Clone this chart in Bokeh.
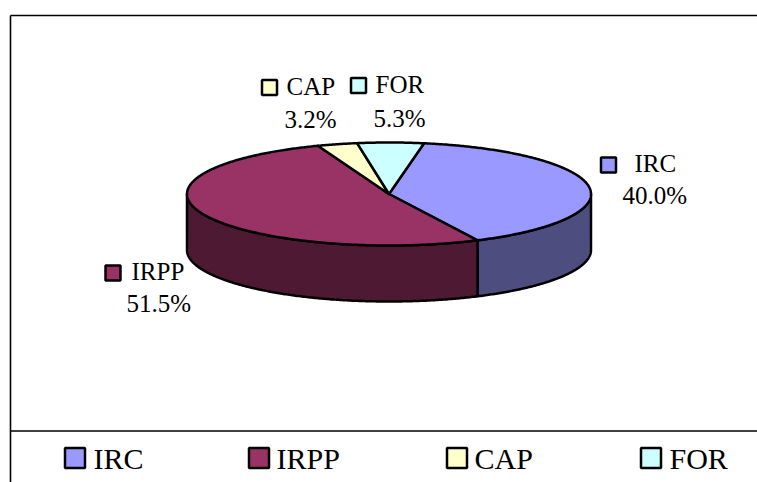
import numpy as np
from bokeh.plotting import figure
from bokeh.models import Range1d
from bokeh.core.properties import value
from bokeh.embed import file_html
from bokeh.resources import INLINE

categories = ["IRC", "IRPP", "CAP", "FOR"]
shares = [40.0, 51.5, 3.2, 5.3]
top_colors = ["#9999FF", "#993366", "#FFFFCC", "#CCFFFF"]
side_colors = ["#4D4D80", "#4D1933", "#808066", "#668080"]

FONT = value("Liberation Serif")
CX, CY, RX, RY, DEPTH = 388.5, 193.5, 202, 51.5, 56.0
START = 10.0

# The data ranges equal the page's pixels, y downwards
p = figure(width=757, height=482, output_backend="svg", toolbar_location=None,
           x_range=Range1d(0, 757), y_range=Range1d(482, 0),
           x_axis_type=None, y_axis_type=None, min_border=0,
           outline_line_color=None, background_fill_color="white")
p.grid.visible = False


def arc(a, b):
    t = np.radians(np.linspace(a, b, max(2, int(abs(b - a) * 2) + 1)))
    return CX + RX * np.sin(t), CY - RY * np.cos(t)


total = sum(shares)
edges = START + np.concatenate([[0], np.cumsum(shares)]) * 360.0 / total

# Side wall: only the front half of the rim shows
for i, col in enumerate(side_colors):
    a, b = max(edges[i], 90.0), min(edges[i + 1], 270.0)
    if a < b:
        x, y = arc(a, b)
        p.patch(np.concatenate([x, x[::-1]]), np.concatenate([y, y[::-1] + DEPTH]),
                fill_color=col, line_color="black", line_width=2.5, line_join="round")

# Top face
for i, col in enumerate(top_colors):
    x, y = arc(edges[i], edges[i + 1])
    p.patch(np.concatenate([[CX], x]), np.concatenate([[CY], y]),
            fill_color=col, line_color="black", line_width=2.5, line_join="round")

# Chart frame and legend rule
p.segment([10, 10, 10], [15, 15, 430.5], [757, 10, 757], [15, 482, 430.5],
          line_color="black", line_width=1.6)

# Data labels: swatch centre, name position, percent position
swatch = [(608, 164.5), (112.5, 272.5), (269, 87), (358, 85)]
name_at = [(634, 163), (131, 271), (286, 86), (375, 84)]
pct_at = [(622, 195), (126, 303), (284, 119), (373, 118)]
for i, cat in enumerate(categories):
    p.rect([swatch[i][0]], [swatch[i][1]], width=15, height=15,
           fill_color=top_colors[i], line_color="black", line_width=2.5)
    p.text([name_at[i][0]], [name_at[i][1]], text=[cat], text_font=FONT,
           text_font_size="25px", text_color="black", text_baseline="alphabetic")
    p.text([pct_at[i][0]], [pct_at[i][1]], text=[f"{shares[i]:.1f}%"], text_font=FONT,
           text_font_size="25px", text_color="black", text_baseline="alphabetic")

# Legend strip
leg_swatch_x = [74.5, 258.5, 456.5, 650.5]
leg_text_x = [93, 276, 474, 669]
for i, cat in enumerate(categories):
    p.rect([leg_swatch_x[i]], [457.5], width=20, height=20,
           fill_color=top_colors[i], line_color="black", line_width=2.5)
    p.text([leg_text_x[i]], [458], text=[cat], text_font=FONT,
           text_font_size="30px", text_color="black", text_baseline="alphabetic")

open("out.html", "w").write(file_html(p, INLINE))
